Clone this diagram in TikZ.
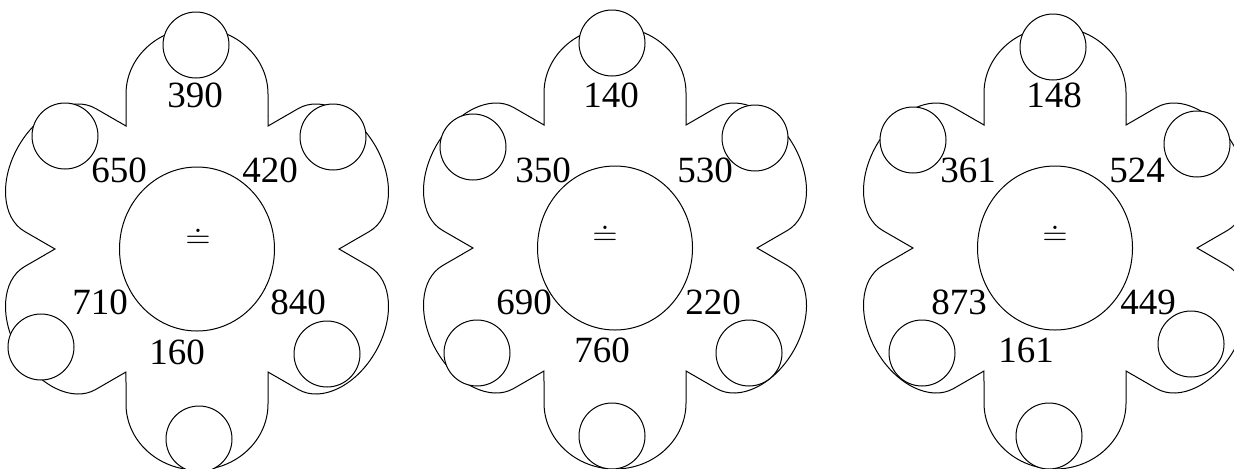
\documentclass[tikz,border=0pt]{standalone}
\usepackage{fontspec}
\setmainfont{Liberation Serif}
\usetikzlibrary{positioning}

\begin{document}
\begin{tikzpicture}[x=0.5pt, y=0.5pt,
        petal/.style={draw=black, line width=0.5pt},
        hub/.style={draw=black, line width=0.5pt},
        ring/.style={circle, draw=black, fill=white, line width=0.5pt, minimum size=33pt, inner sep=0pt},
        num/.style={inner sep=0pt, font=\fontsize{18.5}{22}\selectfont},
        op/.style={inner sep=0pt, font=\fontsize{18.5}{22}\selectfont}
    ]
    \useasboundingbox (0,0) rectangle (1234,468);
    \clip (0,0) rectangle (1234,468);

    % flower 1
    \begin{scope}[shift={(197,219)}]
        \foreach \a/\h/\c in {0/22/66, 60/25/48, 120/25/48, 180/22/66, 240/25/48, 300/25/48}
            \draw[petal, rotate=\a] (71,133) -- (71,133+\h) arc[start angle=0, end angle=180, x radius=71, y radius=\c]
                -- (-71,133) -- (-71,123) -- (121.9:150.8);
        \draw[hub] (0,0) ellipse[x radius=77.5, y radius=82];
        \node[ring] (a1) at (-1,204) {};
        \node[ring] (a2) at (-132,113) {};
        \node[ring] (a3) at (136,112) {};
        \node[ring] (a4) at (-156,-98) {};
        \node[ring] (a5) at (130,-105) {};
        \node[ring] (a6) at (2,-190) {};
        \node[num] (n1) at (-2,154) {390};
        \node[num] (n2) at (-78,79) {650};
        \node[num] (n3) at (73,79) {420};
        \node[num] (n4) at (-97,-53) {710};
        \node[num] (n5) at (101,-53) {840};
        \node[num] (n6) at (-20,-103) {160};
        \node[op] (o1) at (1,11) {$\doteq$};
    \end{scope}

    % flower 2
    \begin{scope}[shift={(615,220)}]
        \foreach \a/\h/\c in {0/22/66, 60/25/48, 120/25/48, 180/22/66, 240/25/48, 300/25/48}
            \draw[petal, rotate=\a] (71,133) -- (71,133+\h) arc[start angle=0, end angle=180, x radius=71, y radius=\c]
                -- (-71,133) -- (-71,123) -- (121.9:150.8);
        \draw[hub] (0,0) ellipse[x radius=77.5, y radius=82];
        \node[ring] (b1) at (-3,205) {};
        \node[ring] (b2) at (-142,101) {};
        \node[ring] (b3) at (140,110) {};
        \node[ring] (b4) at (-138,-105) {};
        \node[ring] (b5) at (134,-105) {};
        \node[ring] (b6) at (-3,-188) {};
        \node[num] (m1) at (-4,153) {140};
        \node[num] (m2) at (-72,78) {350};
        \node[num] (m3) at (90,78) {530};
        \node[num] (m4) at (-91,-54) {690};
        \node[num] (m5) at (98,-54) {220};
        \node[num] (m6) at (-13,-102) {760};
        \node[op] (o2) at (-10,13) {$\doteq$};
    \end{scope}

    % flower 3
    \begin{scope}[shift={(1055,220)}]
        \foreach \a/\h/\c in {0/22/66, 60/25/48, 120/25/48, 180/22/66, 240/25/48, 300/25/48}
            \draw[petal, rotate=\a] (71,133) -- (71,133+\h) arc[start angle=0, end angle=180, x radius=71, y radius=\c]
                -- (-71,133) -- (-71,123) -- (121.9:150.8);
        \draw[hub] (0,0) ellipse[x radius=77.5, y radius=82];
        \node[ring] (c1) at (-2,201) {};
        \node[ring] (c2) at (-142,108) {};
        \node[ring] (c3) at (142,104) {};
        \node[ring] (c4) at (-133,-105) {};
        \node[ring] (c5) at (136,-96) {};
        \node[ring] (c6) at (-6,-188) {};
        \node[num] (k1) at (-1,153) {148};
        \node[num] (k2) at (-87,78) {361};
        \node[num] (k3) at (82,78) {524};
        \node[num] (k4) at (-96,-54) {873};
        \node[num] (k5) at (93,-54) {449};
        \node[num] (k6) at (-29,-102) {161};
        \node[op] (o3) at (0,13) {$\doteq$};
    \end{scope}
\end{tikzpicture}
\end{document}
